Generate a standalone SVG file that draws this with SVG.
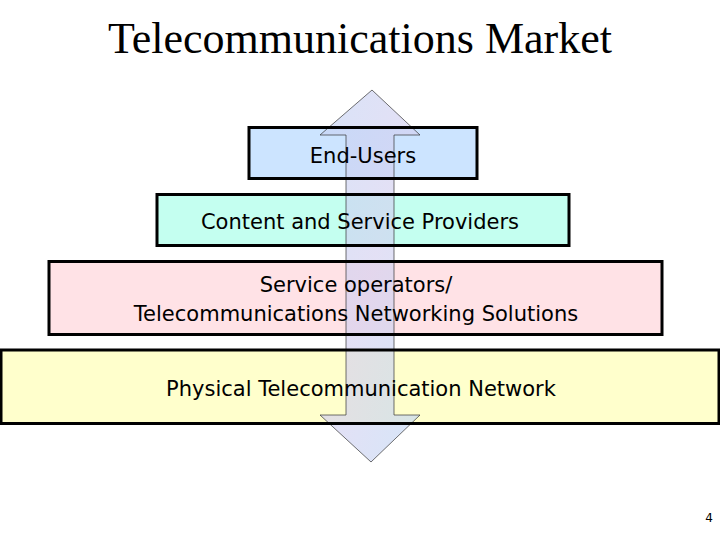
<svg xmlns="http://www.w3.org/2000/svg" width="720" height="540" viewBox="0 0 720 540">
<style>
.box{stroke:#000;stroke-width:3}
.lbl{font-family:"DejaVu Sans",Verdana,sans-serif;font-size:21px;fill:#000;text-anchor:middle}
</style>
<defs>
<linearGradient id="ag" x1="0" y1="0" x2="1" y2="1">
<stop offset="0" stop-color="#c4d4f4"/>
<stop offset="0.5" stop-color="#d4d0f0"/>
<stop offset="1" stop-color="#c0d8f4"/>
</linearGradient>
</defs>
<rect width="720" height="540" fill="#fff"/>
<text x="360" y="53" font-family="Liberation Serif,serif" font-size="44" text-anchor="middle">Telecommunications Market</text>
<g id="n1"><rect x="249" y="127.5" width="228" height="51" fill="#cce4ff"/></g>
<g id="n2"><rect x="157" y="194.5" width="412" height="51" fill="#c4fff0"/></g>
<g id="n3"><rect x="49" y="261.5" width="613" height="73" fill="#ffe2e6"/></g>
<g id="n4"><rect x="1" y="350" width="718" height="73.5" fill="#ffffcc"/></g>
<g id="connectors">
<path d="M372 90 L420 135 L394 135 L394 415 L420 415 L371 462 L320 415 L346 415 L346 135 L320 135 Z" fill="url(#ag)" fill-opacity="0.65" stroke="#333" stroke-width="1" stroke-opacity="0.7"/>
</g>
<g fill="none" class="box">
<rect x="249" y="127.5" width="228" height="51"/>
<rect x="157" y="194.5" width="412" height="51"/>
<rect x="49" y="261.5" width="613" height="73"/>
<rect x="1" y="350" width="718" height="73.5"/>
</g>
<text class="lbl" x="363" y="163">End-Users</text>
<text class="lbl" x="360" y="229">Content and Service Providers</text>
<text class="lbl" x="356" y="292">Service operators/</text>
<text class="lbl" x="356" y="321">Telecommunications Networking Solutions</text>
<text class="lbl" x="361" y="396">Physical Telecommunication Network</text>
<text x="709" y="522" font-family="DejaVu Sans,sans-serif" font-size="12" text-anchor="middle">4</text>
</svg>
